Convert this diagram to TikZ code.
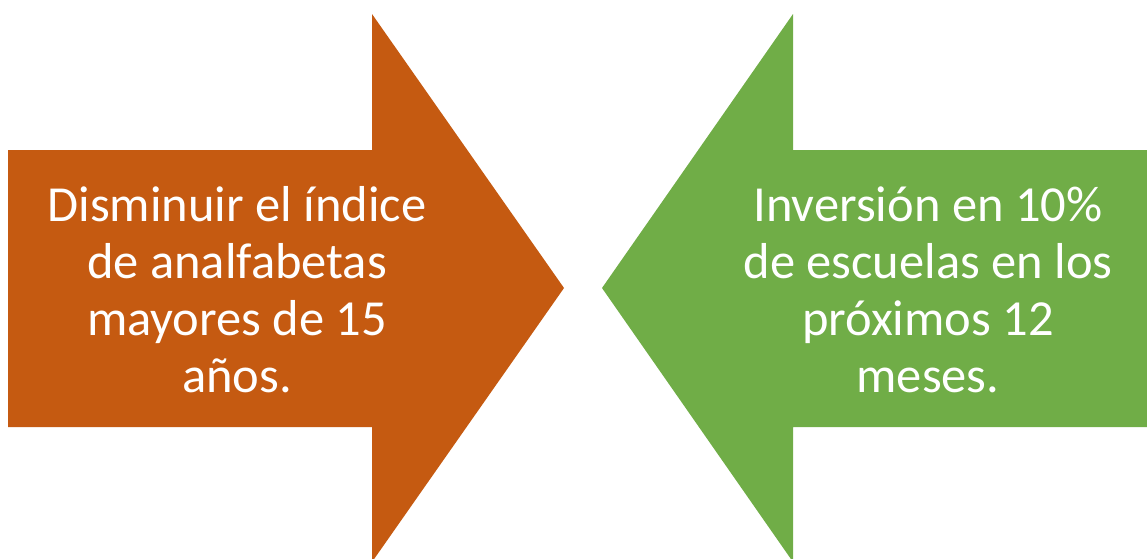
\documentclass[tikz,border=0pt]{standalone}
\usepackage{fontspec}
\setmainfont{Carlito}
\definecolor{orangearrow}{HTML}{C55A11}
\definecolor{greenarrow}{HTML}{70AD47}
\tikzset{
  arrowtext/.style={text=white, align=center, font=\fontsize{50.5}{57}\selectfont, inner sep=0pt},
}
\begin{document}
\begin{tikzpicture}[x=1pt,y=-1pt]
      \useasboundingbox (0,0) rectangle (1147,558);
      % orange arrow pointing right
      \fill[orangearrow]
        (8,150) -- (372,150) -- (372,14) -- (564,288) -- (372,562)
        -- (372,427) -- (8,427) -- cycle;
      % green arrow pointing left
      \fill[greenarrow]
        (1147,150) -- (793,150) -- (793,14) -- (602,288) -- (793,562)
        -- (793,427) -- (1147,427) -- cycle;
      \node[arrowtext] (left) at (237,290)
        {Disminuir el índice\\de analfabetas\\mayores de 15\\años.};
      \node[arrowtext] (right) at (928,290)
        {Inversión en 10\%\\de escuelas en los\\próximos 12\\meses.};
    \end{tikzpicture}
\end{document}
